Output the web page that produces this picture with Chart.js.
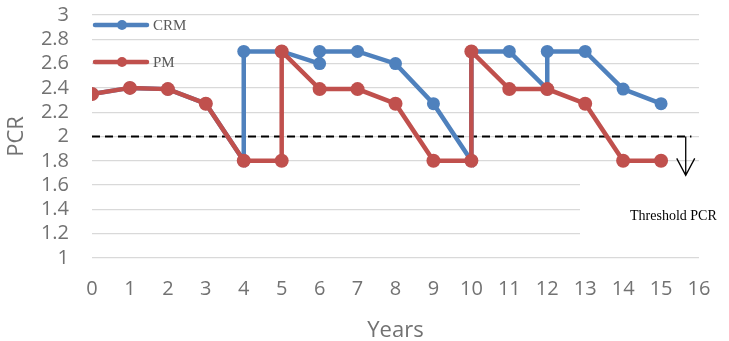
<!DOCTYPE html>
<html>
<head>
<meta charset="utf-8">
<script src="https://cdn.jsdelivr.net/npm/chart.js@4/dist/chart.umd.min.js"></script>
<style>
    html, body { margin: 0; padding: 0; background: #fff; }
    #wrap { width: 729px; height: 341px; }
</style>
</head>
<body>
<div id="wrap"><canvas id="chart" width="729" height="341"></canvas></div>
<script>
// values
const crmYears = [0, 1, 2, 3, 4, 4, 5, 6, 6, 7, 8, 9, 10, 10, 11, 12, 12, 13, 14, 15];
const crmPcr   = [2.35, 2.4, 2.39, 2.27, 1.8, 2.7, 2.7, 2.6, 2.7, 2.7, 2.6, 2.27, 1.8, 2.7, 2.7, 2.39, 2.7, 2.7, 2.39, 2.27];
const pmYears  = [0, 1, 2, 3, 4, 5, 5, 6, 7, 8, 9, 10, 10, 11, 12, 13, 14, 15];
const pmPcr    = [2.35, 2.4, 2.39, 2.27, 1.8, 1.8, 2.7, 2.39, 2.39, 2.27, 1.8, 1.8, 2.7, 2.39, 2.39, 2.27, 1.8, 1.8];
const thresholdPcr   = 2;
const thresholdYears = [0, 15.8];
const arrowYear = 15.65;
const arrowTo   = 1.68;
const yTicks = [1, 1.2, 1.4, 1.6, 1.8, 2, 2.2, 2.4, 2.6, 2.8, 3];

const BLUE = '#4f81bd';
const RED  = '#c0504d';
const GREY = '#727272';

function toPoints(xs, ys) {
    return xs.map((x, i) => ({ x: x, y: ys[i] }));
}

const extras = {
    id: 'extras',
    beforeDatasetsDraw(chart) {
        const ctx = chart.ctx;
        // label box hides the grid lines behind it
        ctx.save();
        ctx.fillStyle = '#fff';
        ctx.fillRect(580, 172, 149, 74);
        ctx.restore();
    },
    afterDatasetsDraw(chart) {
        const ctx = chart.ctx;
        const xs = chart.scales.x, ys = chart.scales.y;

        // arrow below the threshold
        const ax = xs.getPixelForValue(arrowYear);
        const y0 = ys.getPixelForValue(thresholdPcr);
        const y1 = ys.getPixelForValue(arrowTo);
        ctx.save();
        ctx.strokeStyle = '#000';
        ctx.lineWidth = 1.3;
        ctx.beginPath();
        ctx.moveTo(ax, y0);
        ctx.lineTo(ax, y1);
        ctx.moveTo(ax - 9, y1 - 17);
        ctx.lineTo(ax, y1);
        ctx.lineTo(ax + 9, y1 - 17);
        ctx.stroke();

        ctx.fillStyle = '#000';
        ctx.font = '14px "Liberation Serif"';
        ctx.textBaseline = 'middle';
        ctx.textAlign = 'left';
        ctx.fillText('Threshold PCR', 630, 216);

        // legend
        const items = [
            { label: 'CRM', color: BLUE, y: 25 },
            { label: 'PM', color: RED, y: 62 }
        ];
        items.forEach(it => {
            ctx.strokeStyle = it.color;
            ctx.lineWidth = 4.5;
            ctx.lineCap = 'round';
            ctx.beginPath();
            ctx.moveTo(95, it.y);
            ctx.lineTo(147, it.y);
            ctx.stroke();
            ctx.fillStyle = it.color;
            ctx.beginPath();
            ctx.arc(122, it.y, 5, 0, Math.PI * 2);
            ctx.fill();
            ctx.fillStyle = '#595959';
            ctx.font = '15px "Liberation Serif"';
            ctx.fillText(it.label, 153, it.y + 1);
        });
        ctx.restore();
    }
};

new Chart(document.getElementById('chart'), {
    type: 'line',
    data: {
        datasets: [
            {
                label: 'PM',
                data: toPoints(pmYears, pmPcr),
                borderColor: RED,
                backgroundColor: RED,
                borderWidth: 4.5,
                pointRadius: 7,
                pointBorderWidth: 0,
                tension: 0,
                order: 0
            },
            {
                label: 'CRM',
                data: toPoints(crmYears, crmPcr),
                borderColor: BLUE,
                backgroundColor: BLUE,
                borderWidth: 4.5,
                pointRadius: 6.5,
                pointBorderWidth: 0,
                tension: 0,
                order: 1
            },
            {
                label: 'Threshold',
                data: toPoints(thresholdYears, thresholdYears.map(() => thresholdPcr)),
                borderColor: '#000',
                borderWidth: 1.8,
                borderDash: [8, 5],
                pointRadius: 0,
                order: 2
            }
        ]
    },
    options: {
        responsive: false,
        animation: false,
        layout: { padding: { top: 15, right: 30, left: 0, bottom: 0 } },
        plugins: {
            legend: { display: false },
            tooltip: { enabled: false }
        },
        scales: {
            x: {
                type: 'linear',
                min: 0,
                max: 16,
                grid: { display: false, drawTicks: false },
                border: { display: false },
                ticks: {
                    stepSize: 1,
                    padding: 19,
                    color: GREY,
                    font: { family: 'Open Sans', size: 20 }
                },
                title: {
                    display: true,
                    text: 'Years',
                    color: GREY,
                    padding: { top: 0, bottom: -3 },
                    font: { family: 'Open Sans', size: 22 }
                },
                afterFit: s => { s.height = 83; s.paddingLeft = 0; s.paddingRight = 0; }
            },
            y: {
                min: 1,
                max: 3,
                afterBuildTicks: s => { s.ticks = yTicks.map(v => ({ value: v })); },
                grid: { color: '#d9d9d9', lineWidth: 1.3, drawTicks: false },
                border: { display: false },
                ticks: {
                    autoSkip: false,
                    padding: 23,
                    color: GREY,
                    font: { family: 'Open Sans', size: 20 },
                    callback: v => String(+v.toFixed(1))
                },
                title: {
                    display: true,
                    text: 'PCR',
                    color: GREY,
                    padding: { top: 4, bottom: 0 },
                    font: { family: 'Open Sans', size: 22 }
                },
                afterFit: s => { s.width = 92; s.paddingTop = 0; s.paddingBottom = 0; }
            }
        }
    },
    plugins: [extras]
});
</script>
</body>
</html>
